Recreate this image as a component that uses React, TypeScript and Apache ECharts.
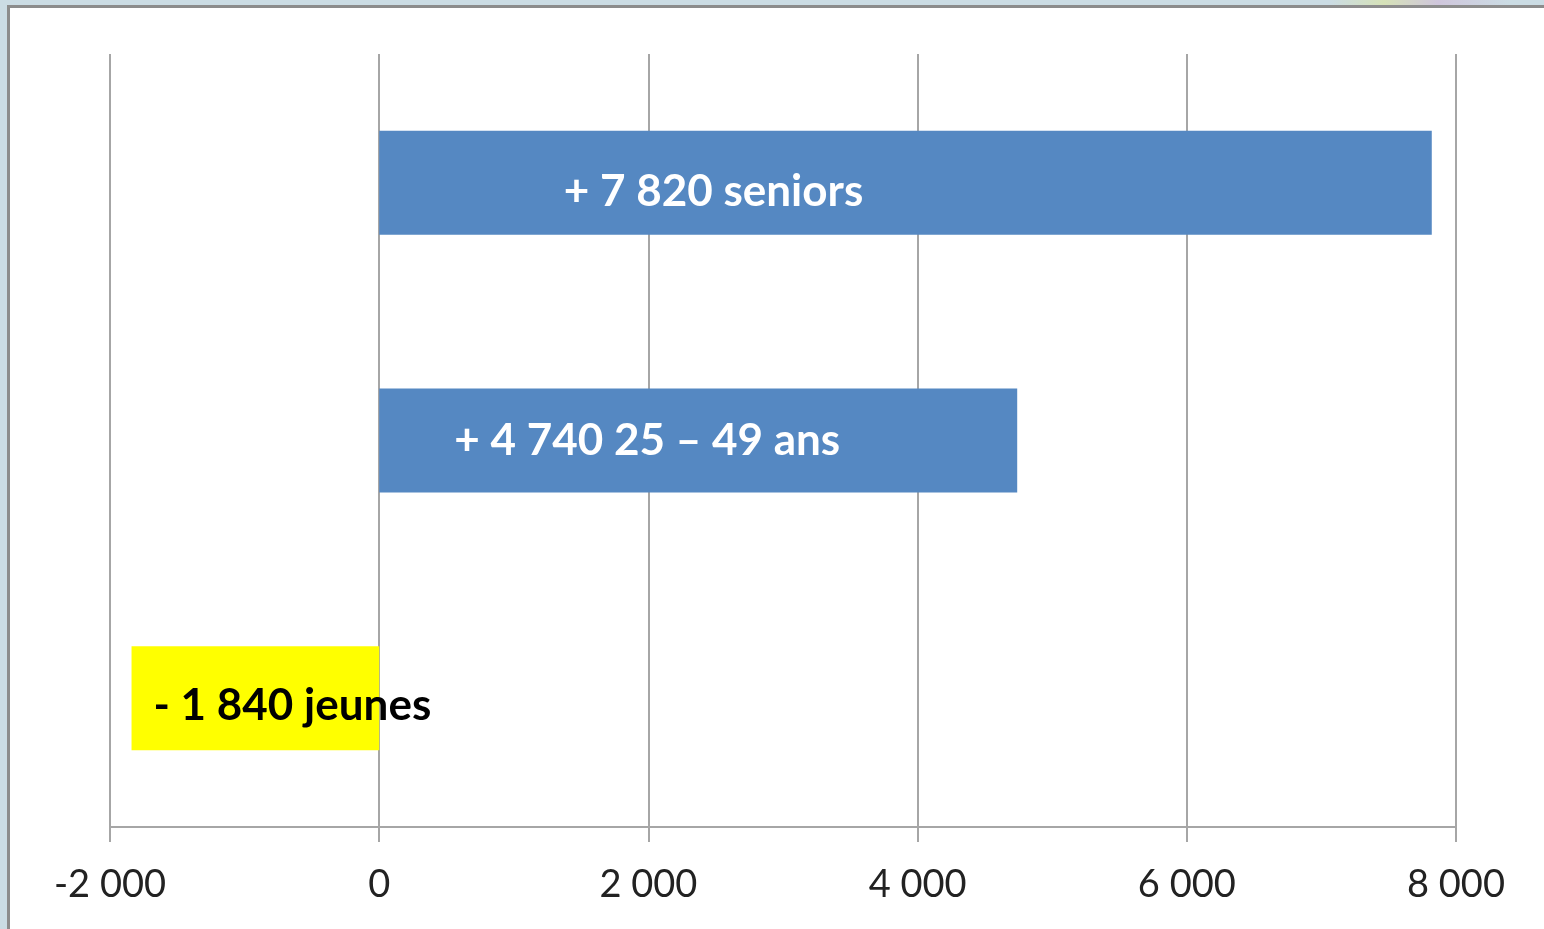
import React, { useEffect, useRef } from "react";
import * as echarts from "echarts";

const categories = ["Jeunes", "25 – 49 ans", "Seniors"];
const values = [-1840, 4740, 7820];
const barLabels = ["- 1 840 jeunes", "+ 4 740 25 – 49 ans", "+ 7 820 seniors"];
const axisMin = -2000;
const axisMax = 8000;
const axisStep = 2000;

const fmt = (v: number) =>
  (v < 0 ? "-" : "") + String(Math.abs(v)).replace(/\B(?=(\d{3})+(?!\d))/g, " ");

export default function App() {
  const ref = useRef<HTMLDivElement>(null);
  useEffect(() => {
    if (!ref.current) return;
    const chart = echarts.init(ref.current, null, { renderer: "svg" });
    const colors = ["#ffff00", "#5588c2", "#5588c2"];
    const labelColors = ["#000000", "#ffffff", "#ffffff"];
    const offsets = [
      [37, 5],
      [-51, -3],
      [-192, 6],
    ];
    chart.setOption({
      animation: false,
      graphic: {
        elements: [
          { type: "rect", z: -20, silent: true, shape: { x: 0, y: 0, width: 1544, height: 929 }, style: { fill: "#cbdce4" } },
          {
            type: "rect", z: -19, silent: true, shape: { x: 1330, y: 0, width: 180, height: 6 },
            style: {
              fill: new echarts.graphic.LinearGradient(0, 0, 1, 0, [
                { offset: 0, color: "rgba(203,220,228,1)" },
                { offset: 0.3, color: "#d6e2b8" },
                { offset: 0.6, color: "#cfc6dc" },
                { offset: 1, color: "rgba(203,220,228,1)" },
              ]),
            },
          },
          { type: "rect", z: -18, silent: true, shape: { x: 8.5, y: 6.5, width: 1560, height: 950 }, style: { fill: "#ffffff", stroke: "#8c8c8c", lineWidth: 3 } },
        ],
      },
      grid: { left: 110, right: 88, top: 54, bottom: 102, containLabel: false },
      xAxis: {
        type: "value",
        min: axisMin,
        max: axisMax,
        interval: axisStep,
        axisLine: { show: true, onZero: false, lineStyle: { color: "#a6a6a6", width: 2 } },
        axisTick: { show: true, inside: false, length: 15, lineStyle: { color: "#a6a6a6", width: 2 } },
        splitLine: { show: true, lineStyle: { color: "#a6a6a6", width: 2 } },
        axisLabel: {
          formatter: (v: number) => fmt(v),
          color: "#222222",
          fontFamily: "Lato",
          fontSize: 38,
          margin: 36,
        },
      },
      yAxis: {
        type: "category",
        data: categories,
        axisLine: { show: false },
        axisTick: { show: false },
        axisLabel: { show: false },
        splitLine: { show: false },
      },
      series: [
        {
          type: "bar",
          barWidth: 104,
          data: values.map((v, i) => ({
            value: v,
            itemStyle: { color: colors[i] },
            label: {
              show: true,
              position: "inside",
              offset: offsets[i],
              formatter: barLabels[i],
              color: labelColors[i],
              fontFamily: "Lato",
              fontWeight: "bold",
              fontSize: 44,
            },
          })),
        },
      ],
    });
    return () => chart.dispose();
  }, []);
  return (
    <div
      ref={ref}
      style={{ position: "fixed", left: 0, top: 0, width: 1544, height: 929 }}
    />
  );
}
